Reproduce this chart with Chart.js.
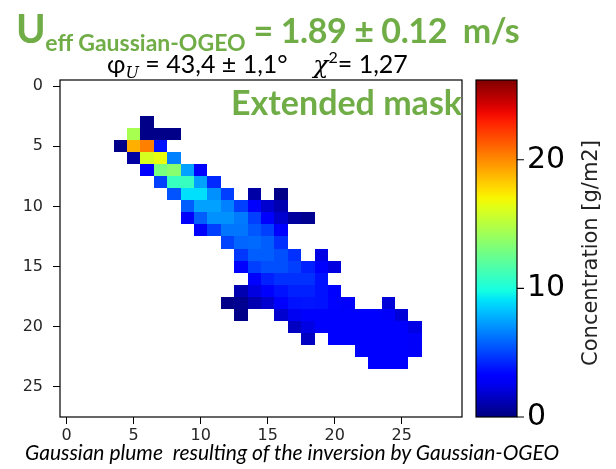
<!DOCTYPE html>
<html>
<head>
<meta charset="utf-8">
<script src="https://cdn.jsdelivr.net/npm/chart.js@4.4.1/dist/chart.umd.min.js"></script>
<style>
  body { margin: 0; background: #fff; }
  #wrap { position: relative; width: 616px; height: 469px; overflow: hidden; }
  #wrap canvas { position: absolute; left: 0; top: 0; }
  .txt { position: absolute; white-space: pre; line-height: 1; }
  .green { color: #70ad47; font-family: Lato, "Open Sans", sans-serif; font-weight: bold; }
  #title { left: 16px; top: 8px; font-size: 34px; letter-spacing: -0.4px; }
  #title .big { font-size: 40px; }
  #title sub { font-size: 23px; vertical-align: -8px; letter-spacing: 0; }
  #params { left: 107px; top: 49px; font-family: Lato, "Open Sans", sans-serif; font-size: 25px; color: #000; }
  #params i { font-family: "DejaVu Serif", serif; }
  #params sub { font-size: 16px; vertical-align: -5px; }
  #params sup { font-size: 16px; vertical-align: 10px; }
  #mask { right: 154px; top: 85px; font-size: 34px; }
  #caption { left: 25px; top: 441px; font-family: Lato, "Open Sans", sans-serif; font-style: italic; font-size: 21px; color: #000; }
</style>
</head>
<body>
<div id="wrap">
  <canvas id="plume"></canvas>
  <div id="title" class="txt green"><span class="big">U</span><sub>eff Gaussian-OGEO</sub> = 1.89 ± 0.12  m/s</div>
  <div id="params" class="txt">φ<sub><i>U</i></sub> = 43,4 ± 1,1°    <i>χ</i><sup>2</sup>= 1,27</div>
  <div id="mask" class="txt green">Extended mask</div>
  <div id="caption" class="txt">Gaussian plume  resulting of the inversion by Gaussian-OGEO</div>
</div>
<script>
// plume rows (image row index), first filled column of each row, and the concentration of each cell (g/m2)
const rows = [3, 4, 5, 6, 7, 8, 9, 10, 11, 12, 13, 14, 15, 16, 17, 18, 19, 20, 21, 22, 23];
const firstCol = [6, 5, 4, 5, 6, 7, 8, 9, 9, 10, 12, 13, 13, 14, 13, 12, 13, 17, 18, 22, 23];
const conc = [
    [0.2],
    [14.5, 0.2, 0.2, 0.2],
    [0.2, 19.0, 20.3, 3.7],
    [0.8, 16.0, 16.6, 6.6],
    [3.1, 13.0, 13.5, 7.4, 3.2],
    [4.9, 10.9, 10.9, 7.4, 4.3],
    [5.4, 9.0, 9.0, 7.0, 4.9, null, 0.9, null, 0.2],
    [5.7, 7.4, 7.4, 6.6, 4.9, 3.2, 1.8, 1.1],
    [2.8, 5.7, 7.0, 7.0, 6.4, 4.9, 3.1, 1.8, 0.7, 0.4],
    [3.1, 4.9, 6.3, 6.3, 5.5, 4.9, 3.1],
    [5.0, 5.9, 6.0, 5.7, 4.5],
    [4.7, 5.7, 5.7, 5.3, 4.5, null, 2.3],
    [3.1, 4.9, 5.3, 5.3, 4.9, 4.1, 3.1, 2.2],
    [3.1, 4.1, 4.5, 4.5, 4.5, 3.7],
    [1.1, 2.2, 3.1, 3.7, 4.1, 4.1, 3.7, 3.1],
    [0.2, 0.4, 1.1, 1.8, 3.2, 3.7, 3.8, 3.7, 3.3, 2.8, null, null, 2.0],
    [0.2, null, null, 1.8, 2.6, 3.1, 3.2, 3.2, 3.1, 3.1, 3.1, 2.8, 2.0],
    [1.5, 2.3, 3.1, 3.2, 3.2, 3.2, 3.1, 3.1, 3.0, 2.3],
    [1.5, null, 3.1, 3.1, 3.1, 3.1, 3.1, 3.0, 2.8],
    [3.1, 3.1, 3.1, 3.0, 2.8],
    [3.1, 3.1, 3.1]
];
const nCols = 30;
const nRows = 28;
const xTicks = [0, 5, 10, 15, 20, 25];
const yTicks = [0, 5, 10, 15, 20, 25];
const cbTicks = [0, 10, 20];
const cbMax = 26.2;

// matplotlib 'jet'
const jetR = [[0, 0], [0.35, 0], [0.66, 1], [0.89, 1], [1, 0.5]];
const jetG = [[0, 0], [0.125, 0], [0.375, 1], [0.64, 1], [0.91, 0], [1, 0]];
const jetB = [[0, 0.5], [0.11, 1], [0.34, 1], [0.65, 0], [1, 0]];

function seg(pts, f) {
    for (let i = 0; i < pts.length - 1; i++) {
        const a = pts[i], b = pts[i + 1];
        if (f <= b[0]) return a[1] + (b[1] - a[1]) * (f - a[0]) / (b[0] - a[0]);
    }
    return pts[pts.length - 1][1];
}

function jet(v) {
    const f = Math.min(1, Math.max(0, v / cbMax));
    const c = [jetR, jetG, jetB].map(p => Math.round(255 * seg(p, f)));
    return `rgb(${c[0]}, ${c[1]}, ${c[2]})`;
}

const cells = [];
rows.forEach((r, i) => {
    conc[i].forEach((v, k) => {
        if (v !== null) cells.push({ x: firstCol[i] + k, y: r, v: v });
    });
});

const tickFont = { family: 'DejaVu Sans', size: 16 };

// no extra room for the end labels, the frame is placed by hand
function noPad(s) {
    s.paddingTop = 0;
    s.paddingBottom = 0;
    s.paddingLeft = 0;
    s.paddingRight = 0;
}

const heatmap = {
    id: 'heatmap',
    beforeDatasetsDraw(chart) {
        const { ctx, scales: { x, y } } = chart;
        ctx.save();
        chart.data.datasets[0].data.forEach(p => {
            // whole pixels so neighbouring cells leave no seams
            const x0 = Math.round(x.getPixelForValue(p.x - 0.5)), x1 = Math.round(x.getPixelForValue(p.x + 0.5));
            const y0 = Math.round(y.getPixelForValue(p.y - 0.5)), y1 = Math.round(y.getPixelForValue(p.y + 0.5));
            ctx.fillStyle = jet(p.v);
            ctx.fillRect(x0, y0, x1 - x0, y1 - y0);
        });
        ctx.restore();
    },
    afterDraw(chart) {
        const { ctx, chartArea: a, scales: { cb } } = chart;
        ctx.save();
        // plot frame
        ctx.strokeStyle = '#000';
        ctx.lineWidth = 1.2;
        ctx.strokeRect(a.left, a.top, a.right - a.left, a.bottom - a.top);

        // colorbar
        const bx0 = cb.left + 14, bx1 = cb.left + 55;
        const top = cb.getPixelForValue(cbMax), bot = cb.getPixelForValue(0);
        const grad = ctx.createLinearGradient(0, bot, 0, top);
        for (let i = 0; i <= 40; i++) grad.addColorStop(i / 40, jet(cbMax * i / 40));
        ctx.fillStyle = grad;
        ctx.fillRect(bx0, top, bx1 - bx0, bot - top);
        ctx.strokeRect(bx0, top, bx1 - bx0, bot - top);
        ctx.beginPath();
        cbTicks.forEach(t => {
            const py = cb.getPixelForValue(t);
            ctx.moveTo(bx1, py);
            ctx.lineTo(bx1 + 7, py);
        });
        ctx.stroke();

        ctx.translate(592, 253);
        ctx.rotate(-Math.PI / 2);
        ctx.fillStyle = '#222';
        ctx.font = '21px "DejaVu Sans"';
        ctx.textAlign = 'center';
        ctx.textBaseline = 'middle';
        ctx.fillText('Concentration [g/m2]', 0, 0);
        ctx.restore();
    }
};

new Chart(document.getElementById('plume'), {
    type: 'scatter',
    data: {
        datasets: [{ data: cells, pointRadius: 0, pointHoverRadius: 0 }]
    },
    options: {
        responsive: true,
        maintainAspectRatio: false,
        animation: false,
        events: [],
        layout: { padding: { top: 80, left: 0, right: 0, bottom: 0 } },
        plugins: { legend: { display: false }, tooltip: { enabled: false } },
        scales: {
            x: {
                type: 'linear',
                min: -0.5,
                max: nCols - 0.5,
                afterBuildTicks: s => { s.ticks = xTicks.map(v => ({ value: v })); },
                afterFit: s => { s.height = 52; noPad(s); },
                ticks: { font: tickFont, color: '#262626', padding: 2, maxRotation: 0 },
                grid: { drawOnChartArea: false, tickLength: 7, color: '#000' },
                border: { display: false }
            },
            y: {
                type: 'linear',
                reverse: true,
                min: -0.5,
                max: nRows - 0.5,
                afterBuildTicks: s => { s.ticks = yTicks.map(v => ({ value: v })); },
                afterFit: s => { s.width = 60; noPad(s); },
                ticks: { font: tickFont, color: '#262626', padding: 10 },
                grid: { drawOnChartArea: false, tickLength: 7, color: '#000' },
                border: { display: false }
            },
            cb: {
                type: 'linear',
                position: 'right',
                min: 0,
                max: cbMax,
                afterBuildTicks: s => { s.ticks = cbTicks.map(v => ({ value: v })); },
                afterFit: s => { s.width = 154; noPad(s); },
                ticks: { font: { family: 'DejaVu Sans', size: 30 }, color: '#000', padding: 65 },
                grid: { display: false, drawTicks: false },
                border: { display: false }
            }
        }
    },
    plugins: [heatmap]
});
</script>
</body>
</html>
